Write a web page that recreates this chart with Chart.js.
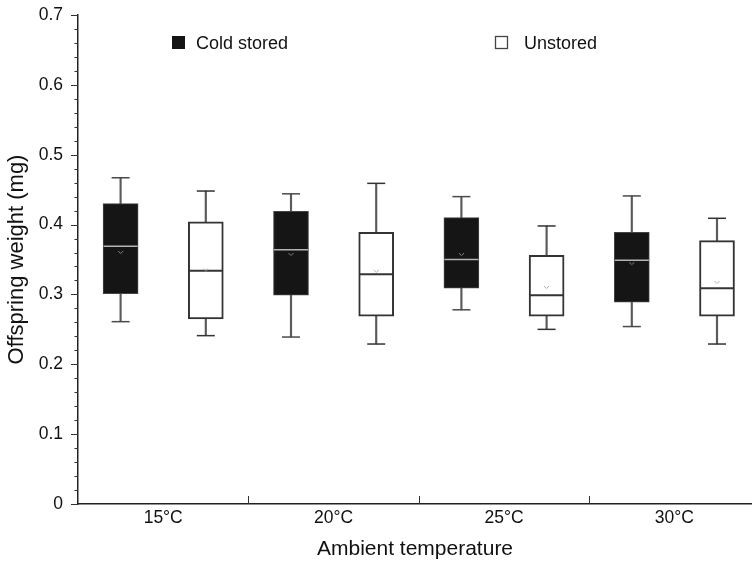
<!DOCTYPE html>
<html>
<head>
<meta charset="utf-8">
<script src="https://cdn.jsdelivr.net/npm/chart.js@4.4.1/dist/chart.umd.min.js"></script>
<style>
  html, body { margin: 0; padding: 0; background: #fff; overflow: hidden; }
  #wrap { width: 752px; height: 563px; }
</style>
</head>
<body>
<div id="wrap"><canvas id="c" width="752" height="563"></canvas></div>
<script>
// ---- data ----
const categories = ['15°C', '20°C', '25°C', '30°C'];
const seriesNames = ['Cold stored', 'Unstored'];

const coldMin    = [0.261, 0.239, 0.278, 0.254];
const coldQ1     = [0.301, 0.299, 0.309, 0.289];
const coldMedian = [0.369, 0.364, 0.350, 0.349];
const coldMean   = [0.360, 0.357, 0.357, 0.344];
const coldQ3     = [0.430, 0.419, 0.410, 0.389];
const coldMax    = [0.467, 0.444, 0.440, 0.441];

const unMin    = [0.241, 0.229, 0.250, 0.229];
const unQ1     = [0.265, 0.269, 0.269, 0.269];
const unMedian = [0.334, 0.329, 0.299, 0.309];
const unMean   = [0.335, 0.333, 0.310, 0.317];
const unQ3     = [0.404, 0.389, 0.356, 0.377];
const unMax    = [0.448, 0.459, 0.398, 0.409];

const yTickLabels = ['0', '0.1', '0.2', '0.3', '0.4', '0.5', '0.6', '0.7'];

// ---- helpers ----
const FONT = "'Liberation Sans', Arial, Helvetica, sans-serif";
const slotOffset = [0.25, 0.75];   // position of each series inside a category slot
const pos = (i, s) => i + slotOffset[s];

function chevron(color) {
  const c = document.createElement('canvas');
  c.width = 7; c.height = 5;
  const g = c.getContext('2d');
  g.strokeStyle = color; g.lineWidth = 1;
  g.beginPath(); g.moveTo(1, 1); g.lineTo(3.5, 3.5); g.lineTo(6, 1); g.stroke();
  return c;
}

const whisker = (mins, maxs, s) => mins.map((v, i) => ({x: pos(i, s), y: [v, maxs[i]]}));
const box = (q1, q3, s) => q1.map((v, i) => ({x: pos(i, s), y: [v, q3[i]]}));
const pts = (vals, s) => vals.map((v, i) => ({x: pos(i, s), y: v}));
const caps = (mins, maxs, s) => pts(mins, s).concat(pts(maxs, s));

const barCommon = { grouped: false, barPercentage: 1, categoryPercentage: 1, borderSkipped: false };
const ptCommon = { type: 'line', showLine: false, pointHoverRadius: 0 };

const datasets = [
  Object.assign({ type: 'bar', label: 'w0', data: whisker(coldMin, coldMax, 0), backgroundColor: '#5a5a5a', borderWidth: 0, maxBarThickness: 1.5, order: 5 }, barCommon),
  Object.assign({ type: 'bar', label: 'w1', data: whisker(unMin, unMax, 1), backgroundColor: '#5a5a5a', borderWidth: 0, maxBarThickness: 1.5, order: 5 }, barCommon),
  Object.assign({ type: 'bar', label: seriesNames[0], data: box(coldQ1, coldQ3, 0), backgroundColor: '#151515', borderColor: '#444', borderWidth: 1, maxBarThickness: 35, order: 4 }, barCommon),
  Object.assign({ type: 'bar', label: seriesNames[1], data: box(unQ1, unQ3, 1), backgroundColor: '#ffffff', borderColor: '#333', borderWidth: 2, maxBarThickness: 35, order: 4 }, barCommon),
  Object.assign({ label: 'c0', data: caps(coldMin, coldMax, 0), pointStyle: 'line', pointRadius: 9, pointBorderColor: '#4a4a4a', pointBorderWidth: 1.5, order: 3 }, ptCommon),
  Object.assign({ label: 'c1', data: caps(unMin, unMax, 1), pointStyle: 'line', pointRadius: 9, pointBorderColor: '#333', pointBorderWidth: 1.5, order: 3 }, ptCommon),
  Object.assign({ label: 'm0', data: pts(coldMedian, 0), pointStyle: 'line', pointRadius: 17, pointBorderColor: '#b4b4b4', pointBorderWidth: 1.5, order: 2 }, ptCommon),
  Object.assign({ label: 'm1', data: pts(unMedian, 1), pointStyle: 'line', pointRadius: 17, pointBorderColor: '#333', pointBorderWidth: 2, order: 2 }, ptCommon),
  Object.assign({ label: 'a0', data: pts(coldMean, 0), pointStyle: chevron('#8a8a8a'), pointRadius: 3, order: 1 }, ptCommon),
  Object.assign({ label: 'a1', data: pts(unMean, 1), pointStyle: chevron('#a8a8a8'), pointRadius: 3, order: 1 }, ptCommon)
];

// ---- axis tick marks (major/minor) and category separators ----
const tickMarks = {
  id: 'tickMarks',
  afterDraw(chart) {
    const {ctx, scales: {x, y}, chartArea} = chart;
    ctx.save();
    ctx.strokeStyle = '#333';
    ctx.lineWidth = 1;
    for (let k = 0; k <= 35; k++) {
      const v = k * 0.02;
      const py = Math.round(y.getPixelForValue(v)) + 0.5;
      const len = (k % 5 === 0) ? 7 : 3.5;
      ctx.beginPath();
      ctx.moveTo(chartArea.left - len, py);
      ctx.lineTo(chartArea.left, py);
      ctx.stroke();
    }
    for (let i = 1; i < categories.length; i++) {
      const px = Math.round(x.getPixelForValue(i)) + 0.5;
      ctx.beginPath();
      ctx.moveTo(px, chartArea.bottom);
      ctx.lineTo(px, chartArea.bottom - 8);
      ctx.stroke();
    }
    ctx.restore();
  }
};

// ---- legend placed inside the plot like the reference ----
const legendInPlot = {
  id: 'legendInPlot',
  afterDraw(chart) {
    const {ctx} = chart;
    ctx.save();
    ctx.font = '18px ' + FONT;
    ctx.textBaseline = 'alphabetic';
    ctx.textAlign = 'left';
    ctx.fillStyle = '#151515';
    ctx.fillRect(172, 36, 13, 13);
    ctx.fillStyle = '#111';
    ctx.fillText(seriesNames[0], 196, 48.5);
    ctx.fillStyle = '#fff';
    ctx.fillRect(495, 36, 13, 13);
    ctx.strokeStyle = '#444';
    ctx.lineWidth = 1.3;
    ctx.strokeRect(495.5, 36.5, 12, 12);
    ctx.fillStyle = '#111';
    ctx.fillText(seriesNames[1], 524, 48.5);
    ctx.restore();
  }
};

const xMax = (752 - 78) / 170.4;

new Chart(document.getElementById('c'), {
  type: 'bar',
  data: { datasets },
  plugins: [tickMarks, legendInPlot],
  options: {
    responsive: false,
    animation: false,
    devicePixelRatio: 1,
    layout: { autoPadding: false, padding: { top: 15, right: 0, bottom: 0, left: 0 } },
    plugins: { legend: { display: false }, tooltip: { enabled: false } },
    scales: {
      x: {
        type: 'linear',
        min: 0,
        max: xMax,
        offset: false,
        grid: { display: true, drawOnChartArea: false, drawTicks: false, offset: false },
        border: { display: true, color: '#222', width: 1.5 },
        afterBuildTicks(scale) { scale.ticks = categories.map((c, i) => ({ value: i + 0.5 })); },
        afterFit(scale) { scale.height = 59; scale.paddingLeft = 0; scale.paddingRight = 0; scale.paddingTop = 0; scale.paddingBottom = 0; },
        ticks: {
          autoSkip: false, maxRotation: 0, padding: 4,
          color: '#111', font: { family: FONT, size: 17.5 },
          callback: (v) => categories[Math.round(v - 0.5)]
        },
        title: { display: true, text: 'Ambient temperature', color: '#111', font: { family: FONT, size: 21 }, padding: { top: 0, bottom: 1.5 } }
      },
      y: {
        min: 0,
        max: 0.7,
        grid: { display: true, drawOnChartArea: false, drawTicks: false },
        border: { display: true, color: '#222', width: 1.5 },
        afterFit(scale) { scale.width = 78; scale.paddingTop = 0; scale.paddingBottom = 0; scale.paddingLeft = 0; scale.paddingRight = 0; },
        ticks: {
          stepSize: 0.1, padding: 15,
          color: '#111', font: { family: FONT, size: 17.5 },
          callback: (v) => yTickLabels[Math.round(v * 10)]
        },
        title: { display: true, text: 'Offspring weight (mg)', color: '#111', font: { family: FONT, size: 22 }, padding: { top: 4, bottom: 0 } }
      }
    }
  }
});
</script>
</body>
</html>
